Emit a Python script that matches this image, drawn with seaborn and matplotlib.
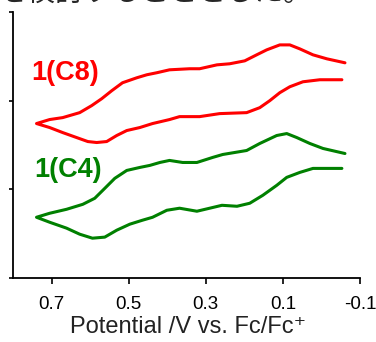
"""
Cyclic voltammograms of 1(C8) and 1(C4).
"""

import numpy as np
import pandas as pd
import matplotlib
matplotlib.use("Agg")
import matplotlib.pyplot as plt
import seaborn as sns

# potential (V vs Fc/Fc+) and current (a.u., offset)
# path: return sweep right->left, then forward sweep left->right
c8_potential = [-0.053, 0.004, 0.048, 0.082, 0.108, 0.134, 0.160, 0.194, 0.264, 0.316,
                0.368, 0.394, 0.438, 0.471, 0.505, 0.531, 0.557, 0.583, 0.606, 0.635,
                0.671, 0.705, 0.739,
                0.705, 0.671, 0.627, 0.596, 0.570, 0.544, 0.516, 0.479, 0.453, 0.427,
                0.394, 0.342, 0.316, 0.271, 0.238, 0.199, 0.168, 0.142, 0.108, 0.082,
                0.056, 0.022, -0.014, -0.061]
c8_current = [2.236, 2.236, 2.213, 2.157, 2.090, 2.000, 1.921, 1.865, 1.854, 1.820,
              1.820, 1.787, 1.742, 1.697, 1.663, 1.607, 1.539, 1.528, 1.539, 1.584,
              1.640, 1.697, 1.742,
              1.787, 1.809, 1.865, 1.944, 2.022, 2.112, 2.202, 2.258, 2.292, 2.315,
              2.348, 2.360, 2.360, 2.404, 2.416, 2.449, 2.517, 2.573, 2.629, 2.629,
              2.584, 2.517, 2.472, 2.427]

c4_potential = [-0.053, 0.022, 0.056, 0.090, 0.116, 0.152, 0.186, 0.219, 0.258, 0.290,
                0.323, 0.368, 0.401, 0.438, 0.464, 0.497, 0.531, 0.562, 0.594, 0.627,
                0.661, 0.705, 0.739,
                0.705, 0.661, 0.619, 0.588, 0.562, 0.536, 0.505, 0.471, 0.445, 0.419,
                0.394, 0.360, 0.323, 0.282, 0.256, 0.194, 0.160, 0.116, 0.090, 0.064,
                0.030, -0.004, -0.061]
c4_current = [1.236, 1.236, 1.191, 1.135, 1.045, 0.933, 0.843, 0.809, 0.820, 0.787,
              0.753, 0.787, 0.764, 0.685, 0.652, 0.607, 0.539, 0.461, 0.449, 0.494,
              0.562, 0.629, 0.685,
              0.730, 0.775, 0.831, 0.899, 1.011, 1.124, 1.213, 1.247, 1.270, 1.303,
              1.326, 1.303, 1.303, 1.360, 1.393, 1.438, 1.517, 1.607, 1.629, 1.584,
              1.517, 1.461, 1.404]

labels = ["1(C8)", "1(C4)"]
colors = ["#ff0000", "#008000"]
xticks = [0.7, 0.5, 0.3, 0.1, -0.1]
yticks = [0, 1, 2, 3]

sns.set_style("ticks")
plt.rcParams['font.family'] = ['Liberation Sans', 'DejaVu Sans']

fig = plt.figure(figsize=(3.76, 3.42), dpi=100)
ax = fig.add_axes([13 / 376, 64 / 342, 347 / 376, 266 / 342])

for pot, cur, col in zip([c8_potential, c4_potential], [c8_current, c4_current], colors):
    df = pd.DataFrame({"E": pot, "I": cur})
    sns.lineplot(data=df, x="E", y="I", sort=False, estimator=None,
                 color=col, linewidth=2.2, solid_joinstyle='round',
                 solid_capstyle='round', ax=ax)

ax.text(0.752, 2.315, labels[0], color=colors[0], fontsize=19.5, fontweight='bold',
        ha='left', va='center')
ax.text(0.745, 1.213, labels[1], color=colors[1], fontsize=19.5, fontweight='bold',
        ha='left', va='center')

ax.set_xlim(0.8, -0.1)
ax.set_ylim(0, 3)
ax.set_xticks(xticks)
ax.set_xticklabels([f"{t:.1f}" for t in xticks])
ax.set_yticks(yticks)
ax.set_yticklabels([])
ax.tick_params(axis='x', direction='out', length=4, width=1.2, labelsize=13.5, pad=9,
               colors='black')
ax.tick_params(axis='y', direction='out', length=3, width=1.2, colors='black')
ax.set_xlabel("Potential /V vs. Fc/Fc\u207a", fontsize=17, color='#222222')
ax.xaxis.set_label_coords(0.505, -0.143)
ax.set_ylabel("")
sns.despine(ax=ax)
for s in ['left', 'bottom']:
    ax.spines[s].set_linewidth(1.3)
    ax.spines[s].set_color('black')

# text of the surrounding page, cut at the top edge
fig.text(-0.005, 1 - 1 / 342, "を検討することとした。", fontsize=20.5,
         family=['Noto Sans CJK JP', 'DejaVu Sans'], ha='left', va='baseline')

fig.savefig("out.png", dpi=100)
